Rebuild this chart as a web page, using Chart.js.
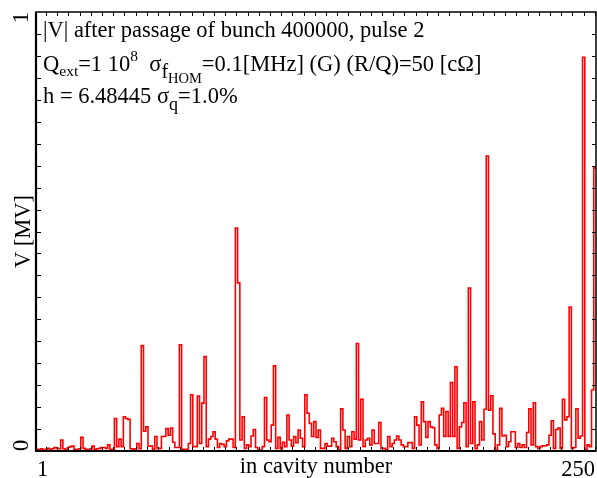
<!DOCTYPE html>
<html lang="en">
<head>
<meta charset="UTF-8" />
<title>Cavity voltage</title>
<script src="https://cdn.jsdelivr.net/npm/chart.js"></script>
<style>
  html, body { margin: 0; padding: 0; background: #fff; }
  #wrap { position: relative; width: 597px; height: 478px; }
</style>
</head>
<body>
<div id="wrap"><canvas id="voltChart"></canvas></div>
<script>
// cavity index along the string (1..250)
const cavities = Array.from({ length: 250 }, (_, i) => i + 1);

// |V| in MV per cavity
const voltage = [
  0.004, 0.003, 0.005, 0.002, 0.004, 0.006, 0.003, 0.005, 0.008, 0.006,
  0.005, 0.025, 0.005, 0.003, 0.008, 0.010, 0.011, 0.004, 0.003, 0.005,
  0.031, 0.006, 0.004, 0.003, 0.005, 0.011, 0.004, 0.005, 0.006, 0.008,
  0.008, 0.006, 0.014, 0.004, 0.003, 0.074, 0.010, 0.027, 0.010, 0.078,
  0.074, 0.072, 0.005, 0.004, 0.005, 0.017, 0.005, 0.240, 0.045, 0.055,
  0.011, 0.011, 0.004, 0.033, 0.006, 0.006, 0.033, 0.033, 0.051, 0.036,
  0.052, 0.020, 0.008, 0.008, 0.242, 0.004, 0.004, 0.004, 0.017, 0.128,
  0.010, 0.010, 0.125, 0.017, 0.109, 0.215, 0.010, 0.027, 0.033, 0.044,
  0.027, 0.008, 0.017, 0.015, 0.010, 0.023, 0.027, 0.027, 0.008, 0.508,
  0.383, 0.025, 0.078, 0.006, 0.014, 0.010, 0.034, 0.049, 0.008, 0.002,
  0.002, 0.010, 0.122, 0.025, 0.021, 0.059, 0.194, 0.006, 0.031, 0.005,
  0.020, 0.010, 0.082, 0.025, 0.011, 0.033, 0.019, 0.048, 0.029, 0.010,
  0.128, 0.086, 0.063, 0.033, 0.067, 0.031, 0.048, 0.006, 0.006, 0.017,
  0.011, 0.011, 0.029, 0.021, 0.010, 0.002, 0.096, 0.048, 0.006, 0.033,
  0.010, 0.044, 0.027, 0.245, 0.025, 0.118, 0.010, 0.025, 0.029, 0.014,
  0.048, 0.017, 0.017, 0.065, 0.006, 0.006, 0.003, 0.033, 0.010, 0.017,
  0.025, 0.034, 0.025, 0.014, 0.010, 0.010, 0.019, 0.019, 0.006, 0.078,
  0.059, 0.014, 0.112, 0.067, 0.031, 0.067, 0.055, 0.053, 0.014, 0.006,
  0.082, 0.097, 0.033, 0.090, 0.033, 0.156, 0.033, 0.192, 0.006, 0.055,
  0.065, 0.110, 0.010, 0.371, 0.017, 0.112, 0.005, 0.014, 0.067, 0.025,
  0.095, 0.672, 0.093, 0.126, 0.039, 0.003, 0.014, 0.097, 0.034, 0.036,
  0.010, 0.021, 0.044, 0.044, 0.008, 0.017, 0.008, 0.014, 0.008, 0.042,
  0.096, 0.014, 0.110, 0.010, 0.006, 0.010, 0.012, 0.012, 0.014, 0.036,
  0.069, 0.006, 0.049, 0.052, 0.006, 0.118, 0.071, 0.078, 0.328, 0.006,
  0.008, 0.096, 0.029, 0.034, 0.897, 0.004, 0.014, 0.010, 0.139, 0.645
];

const xTicks = [1, 250];
const yTicks = [0, 1];
const xTitle = 'in cavity number';
const yTitle = 'V [MV]';

const SERIF = '"Liberation Serif", "Times New Roman", serif';
const FS = 22.5;

// histogram outline: steps centred on each cavity, closed at both half-edges
const points = cavities.map((c, i) => ({ x: c, y: voltage[i] }));
points.unshift({ x: cavities[0] - 0.5, y: voltage[0] });
points.push({ x: cavities[cavities.length - 1] + 0.5, y: voltage[voltage.length - 1] });

function drawRuns(ctx, x, y, parts) {
  for (const [t, size, dy] of parts) {
    ctx.font = size + 'px ' + SERIF;
    ctx.fillText(t, x, y + dy);
    x += ctx.measureText(t).width;
  }
}

function vText(ctx, str, x, y, align) {
  ctx.save();
  ctx.translate(x, y);
  ctx.rotate(-Math.PI / 2);
  ctx.textAlign = align;
  ctx.textBaseline = 'alphabetic';
  ctx.fillText(str, 0, 0);
  ctx.restore();
}

const framePlugin = {
  id: 'frame',
  afterDraw(chart) {
    const { ctx, chartArea: a, scales: { x, y } } = chart;
    ctx.save();
    ctx.strokeStyle = '#000';
    ctx.fillStyle = '#000';

    // inward minor ticks
    ctx.lineWidth = 1;
    ctx.beginPath();
    for (let v = 5; v <= 250; v += 5) {
      const px = Math.round(x.getPixelForValue(v)) + 0.5;
      ctx.moveTo(px, a.bottom); ctx.lineTo(px, a.bottom - 4);
      ctx.moveTo(px, a.top); ctx.lineTo(px, a.top + 4);
    }
    for (let k = 1; k < 20; k++) {
      const py = Math.round(y.getPixelForValue(k * 0.05)) + 0.5;
      ctx.moveTo(a.left, py); ctx.lineTo(a.left + 5, py);
      ctx.moveTo(a.right, py); ctx.lineTo(a.right - 4, py);
    }
    ctx.stroke();

    // box
    ctx.lineWidth = 1.5;
    ctx.strokeRect(a.left, a.top, a.right - a.left, a.bottom - a.top);
    ctx.lineWidth = 2.2;
    ctx.beginPath();
    ctx.moveTo(a.left, a.top); ctx.lineTo(a.left, a.bottom);
    ctx.lineTo(a.right, a.bottom);
    ctx.stroke();

    // y labels, rotated
    ctx.font = FS + 'px ' + SERIF;
    vText(ctx, String(yTicks[0]), 28, y.getPixelForValue(yTicks[0]), 'left');
    vText(ctx, String(yTicks[1]), 28, y.getPixelForValue(yTicks[1]), 'right');
    vText(ctx, yTitle, 30, y.getPixelForValue(0.5), 'center');

    // x title sits on the tick-label line
    ctx.textAlign = 'center';
    ctx.fillText(xTitle, (a.left + a.right) / 2, 473);

    // annotation block
    ctx.textAlign = 'left';
    const lx = a.left + 7;
    drawRuns(ctx, lx, 37, [['|V| after passage of bunch 400000, pulse 2', FS, 0]]);
    drawRuns(ctx, lx, 71, [
      ['Q', FS, 0], ['ext', 15.5, 5], ['=1 10', FS, 0], ['8', 15.5, -10],
      ['  \u03C3', FS, 0], ['f', 20, 7], ['HOM', 14.5, 12],
      ['=0.1[MHz] (G) (R/Q)=50 [c\u03A9]', FS, 0]
    ]);
    drawRuns(ctx, lx, 103, [['h = 6.48445 \u03C3', FS, 0], ['q', 18, 7], ['=1.0%', FS, 0]]);
    ctx.restore();
  }
};

new Chart(document.getElementById('voltChart'), {
  type: 'line',
  data: {
    datasets: [{
      data: points,
      borderColor: '#ff0000',
      borderWidth: 1.6,
      stepped: 'middle',
      pointRadius: 0,
      fill: false
    }]
  },
  options: {
    responsive: true,
    maintainAspectRatio: false,
    animation: false,
    layout: { padding: { top: 12, right: 1, left: 0, bottom: 0 } },
    plugins: { legend: { display: false }, tooltip: { enabled: false } },
    scales: {
      x: {
        type: 'linear',
        min: 0.5,
        max: 250.5,
        grid: { display: false },
        border: { display: false },
        afterBuildTicks: s => { s.ticks = xTicks.map(v => ({ value: v })); },
        ticks: {
          autoSkip: false,
          maxRotation: 0,
          align: 'inner',
          padding: -2,
          color: '#000',
          font: { family: SERIF, size: FS },
          callback: v => String(v)
        },
        afterFit: s => { s.height = 27; }
      },
      y: {
        min: 0,
        max: 1,
        grid: { display: false },
        border: { display: false },
        ticks: { display: false },
        afterFit: s => { s.width = 36; }
      }
    }
  },
  plugins: [framePlugin]
});
</script>
</body>
</html>
